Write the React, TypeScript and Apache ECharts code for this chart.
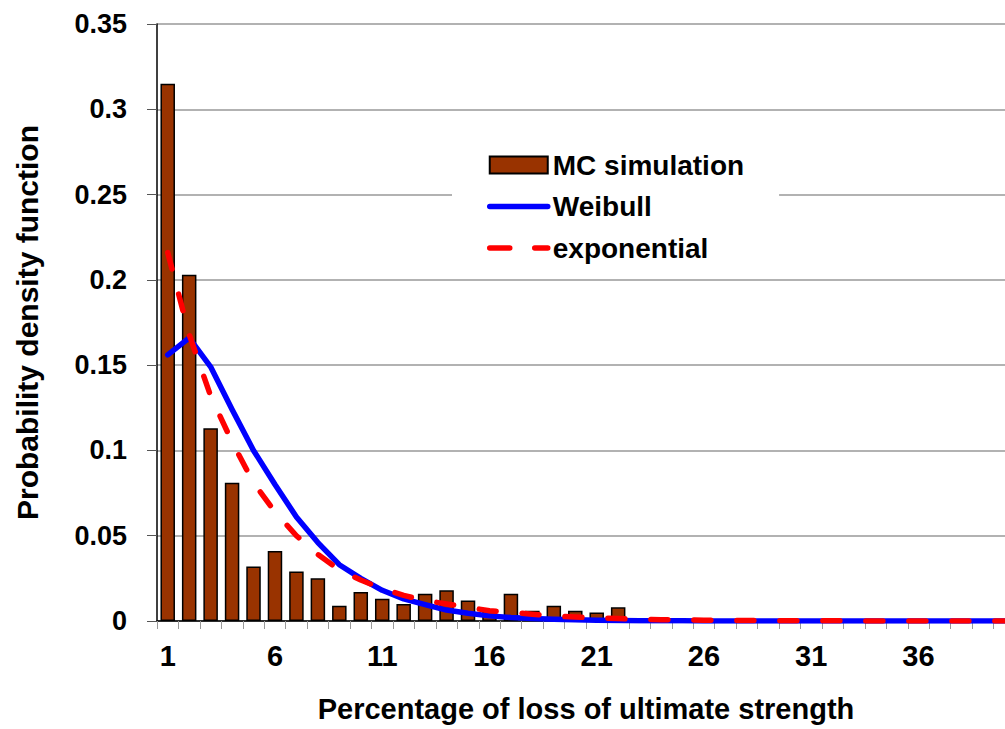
import React, { useEffect, useRef } from "react";
import * as echarts from "echarts";

const categories = [
  "1", "2", "3", "4", "5", "6", "7", "8", "9", "10",
  "11", "12", "13", "14", "15", "16", "17", "18", "19", "20",
  "21", "22", "23", "24", "25", "26", "27", "28", "29", "30",
  "31", "32", "33", "34", "35", "36", "37", "38", "39", "40",
];

const mcSimulation = [
  0.315, 0.203, 0.113, 0.081, 0.032, 0.041, 0.029, 0.025, 0.009, 0.017,
  0.013, 0.010, 0.016, 0.018, 0.012, 0.007, 0.016, 0.006, 0.009, 0.006,
  0.005, 0.008, 0.001, 0, 0, 0, 0, 0.001, 0, 0,
  0, 0, 0, 0, 0, 0, 0, 0, 0, 0,
];

const weibull = [
  0.156, 0.166, 0.149, 0.124, 0.100, 0.080, 0.061, 0.046, 0.033, 0.025,
  0.018, 0.013, 0.0096, 0.0064, 0.0045, 0.003, 0.002, 0.0015, 0.001, 0.0007,
  0.0005, 0.0003, 0.0002, 0.0001, 0.0001, 0, 0, 0, 0, 0,
  0, 0, 0, 0, 0, 0, 0, 0, 0, 0,
];

const exponential = [
  0.216, 0.168, 0.132, 0.105, 0.081, 0.064, 0.050, 0.039, 0.030, 0.024,
  0.019, 0.015, 0.012, 0.010, 0.008, 0.006, 0.005, 0.004, 0.003, 0.0023,
  0.0018, 0.0014, 0.001, 0.0008, 0.0006, 0.0005, 0.0004, 0.0003, 0.0002, 0.0002,
  0.0001, 0.0001, 0.0001, 0, 0, 0, 0, 0, 0, 0,
];

const FONT = "Arial, 'Liberation Sans', Helvetica, sans-serif";

export default function App() {
  const ref = useRef<HTMLDivElement>(null);

  useEffect(() => {
    if (!ref.current) return;
    const chart = echarts.init(ref.current, null, { renderer: "svg" });
    chart.setOption({
      animation: false,
      backgroundColor: "#fff",
      grid: {
        left: 157,
        top: 24,
        width: 858,
        height: 597,
        containLabel: false,
        outerBoundsMode: "none",
      },
      legend: {
        orient: "vertical",
        left: 452,
        top: 140,
        padding: [10, 35, 10, 35],
        backgroundColor: "#fff",
        itemWidth: 58,
        itemHeight: 17,
        itemGap: 11.5,
        textStyle: {
          fontFamily: FONT,
          fontWeight: "bold",
          fontSize: 28,
          lineHeight: 30,
          color: "#000",
        },
        data: [
          { name: "MC simulation", icon: "rect" },
          {
            name: "Weibull",
            itemStyle: { opacity: 0 },
            lineStyle: { width: 5.5, cap: "round" },
          },
          {
            name: "exponential",
            itemStyle: { opacity: 0 },
            lineStyle: { width: 5.5, cap: "round", type: [20, 25] },
          },
        ],
      },
      xAxis: {
        type: "category",
        data: categories,
        boundaryGap: true,
        name: "Percentage of loss of ultimate strength",
        nameLocation: "middle",
        nameGap: 73,
        nameTextStyle: {
          fontFamily: FONT,
          fontWeight: "bold",
          fontSize: 29,
          lineHeight: 30,
          color: "#000",
        },
        axisLine: { show: true, lineStyle: { color: "#000", width: 1.5 } },
        axisTick: {
          show: true,
          interval: 0,
          length: 8,
          lineStyle: { color: "#999", width: 1 },
        },
        axisLabel: {
          interval: 4,
          margin: 20,
          fontFamily: FONT,
          fontWeight: "bold",
          fontSize: 29,
          color: "#000",
        },
        splitLine: { show: false },
      },
      yAxis: {
        type: "value",
        min: 0,
        max: 0.35,
        interval: 0.05,
        name: "Probability density function",
        nameLocation: "middle",
        nameGap: 115,
        nameRotate: 90,
        nameTextStyle: {
          fontFamily: FONT,
          fontWeight: "bold",
          fontSize: 30,
          color: "#000",
        },
        axisLine: { show: true, lineStyle: { color: "#000", width: 1.5 } },
        axisTick: { show: true, length: 10, lineStyle: { color: "#555", width: 1 } },
        axisLabel: {
          margin: 30,
          fontFamily: FONT,
          fontWeight: "bold",
          fontSize: 27,
          color: "#000",
          formatter: (v: number) => String(Math.round(v * 100) / 100),
        },
        splitLine: { show: true, lineStyle: { color: "#999", width: 1.5 } },
      },
      series: [
        {
          name: "MC simulation",
          type: "bar",
          data: mcSimulation,
          barWidth: 14.5,
          itemStyle: { color: "#993300", borderColor: "#000", borderWidth: 1.5 },
        },
        {
          name: "Weibull",
          type: "line",
          data: weibull,
          symbol: "none",
          smooth: false,
          lineStyle: { color: "#0000FF", width: 5.5, cap: "round", join: "round" },
          itemStyle: { color: "#0000FF" },
        },
        {
          name: "exponential",
          type: "line",
          data: exponential,
          symbol: "none",
          smooth: false,
          lineStyle: {
            color: "#FF0000",
            width: 5.5,
            type: [17, 26],
            cap: "round",
            join: "round",
          },
          itemStyle: { color: "#FF0000" },
        },
      ],
    });
    return () => chart.dispose();
  }, []);

  return (
    <div
      ref={ref}
      style={{ position: "fixed", left: 0, top: 0, width: 1005, height: 729 }}
    />
  );
}
